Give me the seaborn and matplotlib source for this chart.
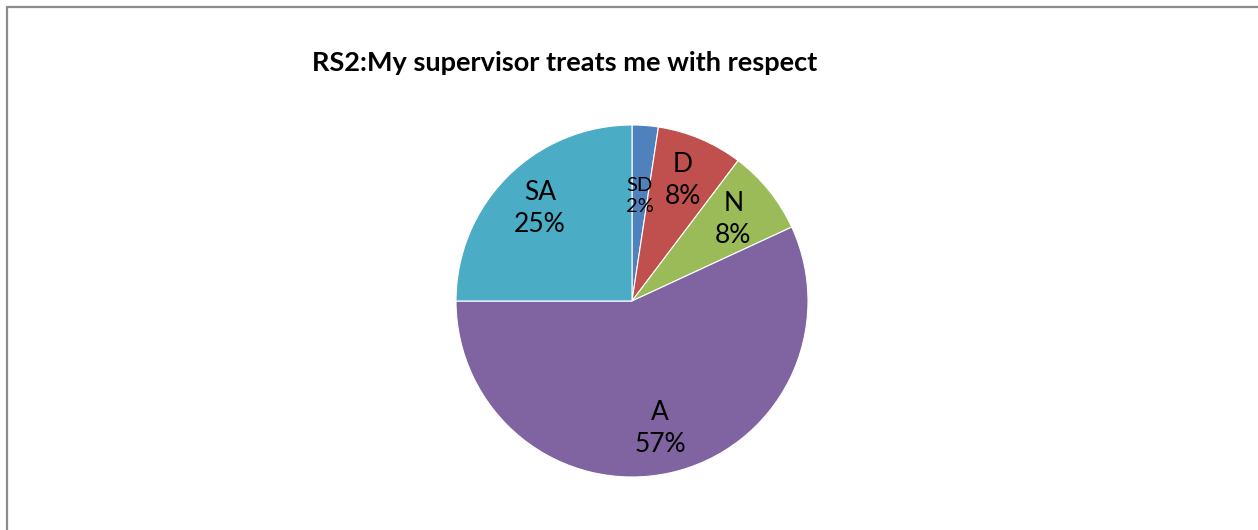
import matplotlib
matplotlib.use("Agg")
import matplotlib.pyplot as plt
import seaborn as sns
from matplotlib.patches import Rectangle

# Survey answers for RS2 (percent of respondents)
categories = ["SD", "D", "N", "A", "SA"]
shares = [2.4, 7.9, 7.8, 56.9, 25.0]
pct_labels = ["2%", "8%", "8%", "57%", "25%"]
colors = ["#4F81BD", "#C0504D", "#9BBB59", "#8064A2", "#4BACC6"]

sns.set_theme(style="white")
plt.rcParams["font.family"] = ["Lato", "DejaVu Sans"]

fig = plt.figure(figsize=(12.58, 5.30), dpi=100)
W, H = 1258, 530
cx, cy, r = 632, 301, 176
ax = fig.add_axes([(cx - r) / W, (H - cy - r) / H, 2 * r / W, 2 * r / H])

labels = [f"{c}\n{p}" for c, p in zip(categories, pct_labels)]
wedges, texts = ax.pie(
    shares,
    labels=labels,
    colors=sns.color_palette(colors),
    startangle=90,
    counterclock=False,
    labeldistance=0.74,
    wedgeprops=dict(edgecolor="white", linewidth=0.8),
    textprops=dict(fontsize=19, color="black", linespacing=1.35),
)
for t in texts:
    t.set_ha("center")
    t.set_va("center")
# the thin SD slice gets a smaller label, a bit closer to the centre
x, y = texts[0].get_position()
texts[0].set_position((x * 0.6 / 0.74, y * 0.6 / 0.74))
texts[0].set_fontsize(14.5)
texts[0].set_linespacing(1.3)
ax.set_xlim(-1, 1)
ax.set_ylim(-1, 1)
ax.set_aspect("auto")
ax.axis("off")

fig.text(565 / W, 1 - 63 / H, "RS2:My supervisor treats me with respect",
         ha="center", va="center", fontsize=19.5, fontweight="bold",
         color="black")

# chart area border (top and left visible, runs off the image)
fig.patches.append(Rectangle((7 / W, -0.1), 1.2, 1 - 7 / H + 0.1,
                             transform=fig.transFigure, fill=False,
                             edgecolor="#8c8c8c", linewidth=1.6))

fig.savefig("out.png", dpi=100)
